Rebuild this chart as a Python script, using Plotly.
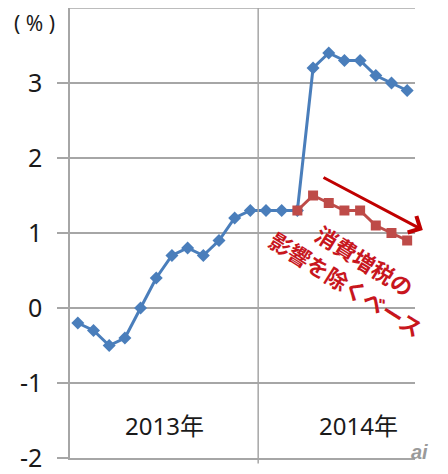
import plotly.graph_objects as go

# Data (monthly, Jan 2013 - Oct 2014)
months = ["2013-01","2013-02","2013-03","2013-04","2013-05","2013-06","2013-07","2013-08",
          "2013-09","2013-10","2013-11","2013-12","2014-01","2014-02","2014-03","2014-04",
          "2014-05","2014-06","2014-07","2014-08","2014-09","2014-10"]
cpi_core = [-0.2, -0.3, -0.5, -0.4, 0.0, 0.4, 0.7, 0.8, 0.7, 0.9, 1.2, 1.3,
            1.3, 1.3, 1.3, 3.2, 3.4, 3.3, 3.3, 3.1, 3.0, 2.9]
ex_tax_months = ["2014-03","2014-04","2014-05","2014-06","2014-07","2014-08","2014-09","2014-10"]
ex_tax = [1.3, 1.5, 1.4, 1.3, 1.3, 1.1, 1.0, 0.9]
year_labels = ["2013年", "2014年"]
y_ticks = [-2, -1, 0, 1, 2, 3]

idx = {m: i for i, m in enumerate(months)}
x_all = [idx[m] for m in months]
x_ex = [idx[m] for m in ex_tax_months]

FONT = "Noto Sans, Noto Sans CJK JP, sans-serif"
GRID = "#A6A6A6"

fig = go.Figure()
fig.add_trace(go.Scatter(
    x=x_all, y=cpi_core, mode="lines+markers",
    line=dict(color="#4A7EBB", width=3),
    marker=dict(symbol="diamond", size=10, color="#4A7EBB"),
    showlegend=False, hoverinfo="skip"))
fig.add_trace(go.Scatter(
    x=x_ex, y=ex_tax, mode="lines+markers",
    line=dict(color="#BE4B48", width=3),
    marker=dict(symbol="square", size=10, color="#BE4B48"),
    showlegend=False, hoverinfo="skip"))

fig.update_layout(
    width=448, height=474,
    margin=dict(l=62, r=41, t=0, b=24, autoexpand=False),
    paper_bgcolor="white", plot_bgcolor="white",
    font=dict(family=FONT, color="#1a1a1a"),
    xaxis=dict(range=[-0.5, len(months) - 0.5], showgrid=False, zeroline=False,
               showticklabels=False, ticks="", showline=True, linecolor=GRID, linewidth=1.5,
               automargin=False),
    yaxis=dict(range=[-2, 4], tickvals=y_ticks, ticktext=[str(v) for v in y_ticks],
               showgrid=True, gridcolor=GRID, gridwidth=1.5, zeroline=False,
               showline=True, linecolor=GRID, linewidth=1.5,
               ticks="outside", ticklen=11, tickcolor=GRID, tickwidth=1.5,
               ticklabelstandoff=10, automargin=False,
               tickfont=dict(size=25, family=FONT, color="#1a1a1a")),
)

# top border line at 4 and year separator
fig.add_shape(type="line", xref="paper", yref="y", x0=0, x1=1, y0=4, y1=4,
              line=dict(color=GRID, width=1.5))
fig.add_shape(type="line", xref="x", yref="paper", x0=11.5, x1=11.5, y0=-0.012, y1=1,
              line=dict(color=GRID, width=1.5))

# year labels
fig.add_annotation(x=5.5, y=-1.56, text=year_labels[0], showarrow=False,
                   font=dict(size=24, family=FONT, color="#1a1a1a"))
fig.add_annotation(x=17.9, y=-1.56, text=year_labels[1], showarrow=False,
                   font=dict(size=24, family=FONT, color="#1a1a1a"))

# unit label
fig.add_annotation(xref="paper", yref="paper", x=-0.104, y=0.966, text="( % )",
                   xanchor="center", yanchor="middle",
                   showarrow=False, font=dict(size=21, family=FONT, color="#1a1a1a"))

# arrow
fig.add_annotation(x=22.0, y=1.04, ax=15.57, ay=1.75, xref="x", yref="y",
                   axref="x", ayref="y", text="", showarrow=True,
                   arrowhead=4, arrowsize=1.2, arrowwidth=3, arrowcolor="#C00000")

# rotated red text
RED = "#C8161D"
fig.add_annotation(x=18.31, y=0.64, text="<b>消費増税の</b>", showarrow=False,
                   textangle=32, font=dict(size=22, family="Noto Sans CJK JP", color=RED))
fig.add_annotation(x=17.1, y=0.33, text="<b>影響を除くベース</b>", showarrow=False,
                   textangle=32, font=dict(size=22, family="Noto Sans CJK JP", color=RED))

# watermark
fig.add_annotation(xref="paper", yref="paper", x=1.014, y=0.013, text="<b><i>ai</i></b>",
                   xanchor="center", yanchor="middle",
                   showarrow=False, font=dict(size=20, family="Liberation Sans", color="#9a9a9a"))

fig.write_html("out.html")
